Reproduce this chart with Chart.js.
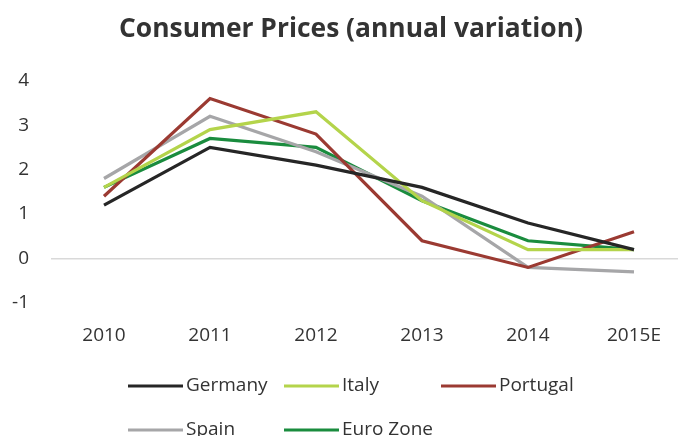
<!DOCTYPE html>
<html>
<head>
<meta charset="utf-8">
<script src="https://cdn.jsdelivr.net/npm/chart.js@4/dist/chart.umd.min.js"></script>
<style>
  html, body { margin: 0; padding: 0; background: #fff; overflow: hidden; }
  #wrap { position: relative; width: 678px; height: 436px; overflow: hidden; }
  #wrap canvas { position: absolute; left: 0; top: 0; }
</style>
</head>
<body>
<div id="wrap"><canvas id="c" width="702" height="450"></canvas></div>
<script>
// Consumer price inflation, annual variation (%)
const years = ['2010', '2011', '2012', '2013', '2014', '2015E'];
const germany  = [1.2, 2.5, 2.1, 1.6, 0.8, 0.2];
const italy    = [1.6, 2.9, 3.3, 1.3, 0.2, 0.2];
const portugal = [1.4, 3.6, 2.8, 0.4, -0.2, 0.6];
const spain    = [1.8, 3.2, 2.4, 1.4, -0.2, -0.3];
const euroZone = [1.6, 2.7, 2.5, 1.3, 0.4, 0.2];
const seriesNames = ['Germany', 'Italy', 'Portugal', 'Spain', 'Euro Zone'];
const seriesColors = ['#262626', '#b4d44b', '#9b3a32', '#a6a6a8', '#1a8c3e'];

const FONT = '"Open Sans", Lato, sans-serif';
const TEXT = '#333333';

// Centre the title across the whole canvas rather than the padded box
const titleSpan = {
  id: 'titleSpan',
  afterLayout(chart) {
    if (chart.titleBlock) {
      chart.titleBlock.left = 0;
      chart.titleBlock.right = chart.width;
    }
  }
};

// Legend laid out in a fixed grid: three columns, two rows
const legendGrid = {
  id: 'legendGrid',
  afterDraw(chart) {
    const ctx = chart.ctx;
    const cols = [128, 284, 441];
    const rows = [386, 430];
    ctx.save();
    ctx.font = '19px ' + FONT;
    ctx.textBaseline = 'middle';
    ctx.textAlign = 'left';
    chart.data.datasets.forEach((ds, i) => {
      const x = cols[i % 3];
      const y = rows[Math.floor(i / 3)];
      ctx.strokeStyle = ds.borderColor;
      ctx.lineWidth = 3;
      ctx.beginPath();
      ctx.moveTo(x, y);
      ctx.lineTo(x + 55, y);
      ctx.stroke();
      ctx.fillStyle = TEXT;
      ctx.fillText(ds.label, x + 58, y);
    });
    ctx.restore();
  }
};

const seriesData = [germany, italy, portugal, spain, euroZone];

new Chart(document.getElementById('c'), {
  type: 'line',
  data: {
    labels: years,
    datasets: seriesData.map((d, i) => ({
      label: seriesNames[i],
      data: d,
      borderColor: seriesColors[i],
      backgroundColor: seriesColors[i],
      borderWidth: 3.2,
      pointRadius: 0,
      tension: 0,
      fill: false
    }))
  },
  options: {
    responsive: false,
    animation: false,
    layout: { padding: { left: 0, right: 15, top: 0, bottom: 87 } },
    plugins: {
      legend: { display: false },
      tooltip: { enabled: false },
      title: {
        display: true,
        text: 'Consumer Prices (annual variation)',
        color: TEXT,
        font: { family: FONT, size: 26.4, weight: 'bold', lineHeight: 1.2 },
        padding: { top: 14, bottom: 35 }
      }
    },
    scales: {
      x: {
        offset: true,
        grid: { display: false, drawTicks: false },
        border: { display: false },
        ticks: { color: TEXT, font: { family: FONT, size: 19 }, padding: 21 },
        afterFit(scale) { scale.height = 60; }
      },
      y: {
        min: -1,
        max: 4,
        grid: {
          drawTicks: false,
          color: (c) => (c.tick && c.tick.value === 0 ? '#d9d9d9' : 'rgba(0,0,0,0)'),
          lineWidth: 1.5
        },
        border: { display: false },
        ticks: { stepSize: 1, color: TEXT, font: { family: FONT, size: 19 }, padding: 22 },
        afterFit(scale) { scale.width = 51; }
      }
    }
  },
  plugins: [titleSpan, legendGrid]
});
</script>
</body>
</html>
